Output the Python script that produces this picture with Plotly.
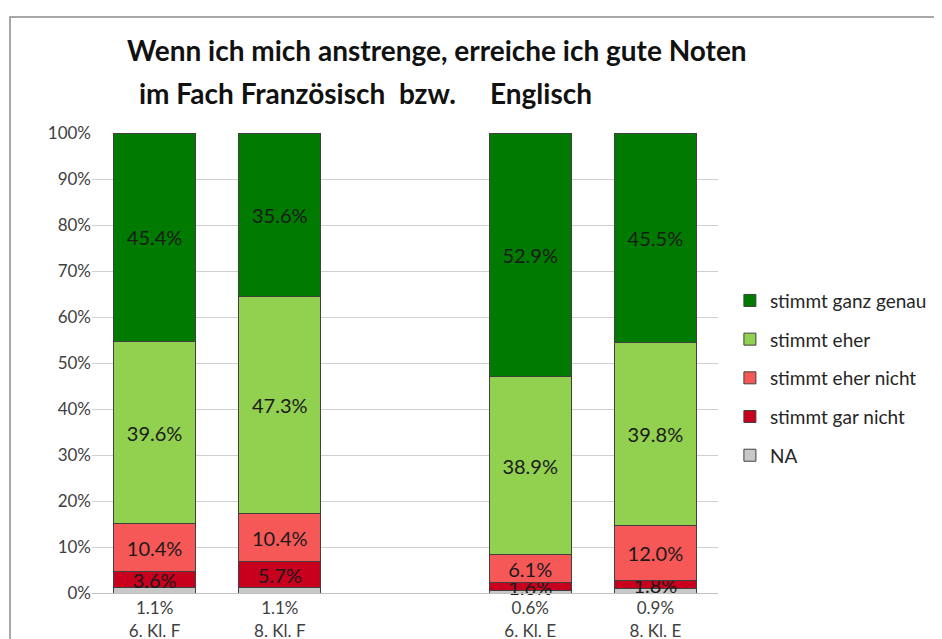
import plotly.graph_objects as go

categories = ["6. Kl. F", "8. Kl. F", " ", "6. Kl. E", "8. Kl. E"]
series_names = ["NA", "stimmt gar nicht", "stimmt eher nicht", "stimmt eher", "stimmt ganz genau"]
na_vals = [1.1, 1.1, None, 0.6, 0.9]
gar_nicht = [3.6, 5.7, None, 1.6, 1.8]
eher_nicht = [10.4, 10.4, None, 6.1, 12.0]
eher = [39.6, 47.3, None, 38.9, 39.8]
ganz_genau = [45.4, 35.6, None, 52.9, 45.5]
y_ticks = list(range(0, 101, 10))

colors = ["#c8c8c8", "#c8001e", "#f65858", "#92d050", "#007a00"]
series = [na_vals, gar_nicht, eher_nicht, eher, ganz_genau]

fig = go.Figure()
for i, (name, vals, col) in enumerate(zip(series_names, series, colors)):
    show_text = name != "NA"
    fig.add_trace(go.Bar(
        x=categories, y=vals, name=name,
        marker=dict(color=col, line=dict(color="#404040", width=1)),
        text=[(f"{v:.1f}%" if (v is not None and show_text) else "") for v in vals],
        textposition="inside", insidetextanchor="middle",
        textangle=0, constraintext="none", cliponaxis=False,
        textfont=dict(family="Lato", size=20, color="#1a1a1a"),
        legendgroup=name, legendrank=len(series_names) - i,
    ))

ticktext = [(f"{n:.1f}%<br>{c}" if n is not None else "") for n, c in zip(na_vals, categories)]

fig.update_layout(
    barmode="stack", barnorm="percent", bargap=0.345,
    width=934, height=631,
    margin=dict(l=84, r=224, t=125, b=46, autoexpand=False),
    paper_bgcolor="white", plot_bgcolor="white",
    font=dict(family="Lato", size=17, color="#404040"),
    showlegend=True,
    legend=dict(x=1.019, y=0.677, xanchor="left", yanchor="top",
                traceorder="grouped", tracegroupgap=11,
                font=dict(family="Lato", size=19, color="#262626")),
    xaxis=dict(type="category", categoryorder="array", categoryarray=categories,
               tickvals=categories, ticktext=ticktext, showline=True,
               linecolor="#bfbfbf", linewidth=1, ticks="", showgrid=False,
               automargin=False,
               tickfont=dict(size=17, color="#404040"), fixedrange=True),
    yaxis=dict(range=[0, 100.02], tickvals=y_ticks, ticktext=[f"{t}%" for t in y_ticks],
               showgrid=True, gridcolor="#d0d0d0", gridwidth=1, zeroline=False,
               showline=False, ticks="", automargin=False,
               tickfont=dict(size=17, color="#404040"),
               fixedrange=True),
    shapes=[dict(type="rect", xref="paper", yref="paper",
                 x0=-0.131, x1=1.6, y0=-0.2, y1=1.252,
                 line=dict(color="#8c8c8c", width=1.5), fillcolor="rgba(0,0,0,0)",
                 layer="below")],
    annotations=[
        dict(text="<b>Wenn ich mich anstrenge, erreiche ich gute Noten</b>",
             xref="paper", yref="paper", x=0.0527, y=1.180, xanchor="left",
             yanchor="middle", showarrow=False,
             font=dict(family="Lato", size=28, color="#111111")),
        dict(text="<b>im Fach Französisch\u00a0\u00a0bzw.\u00a0\u00a0\u00a0\u00a0\u00a0Englisch</b>",
             xref="paper", yref="paper", x=0.0719, y=1.087, xanchor="left",
             yanchor="middle", showarrow=False,
             font=dict(family="Lato", size=28, color="#111111")),
    ],
)

fig.write_html("out.html")
